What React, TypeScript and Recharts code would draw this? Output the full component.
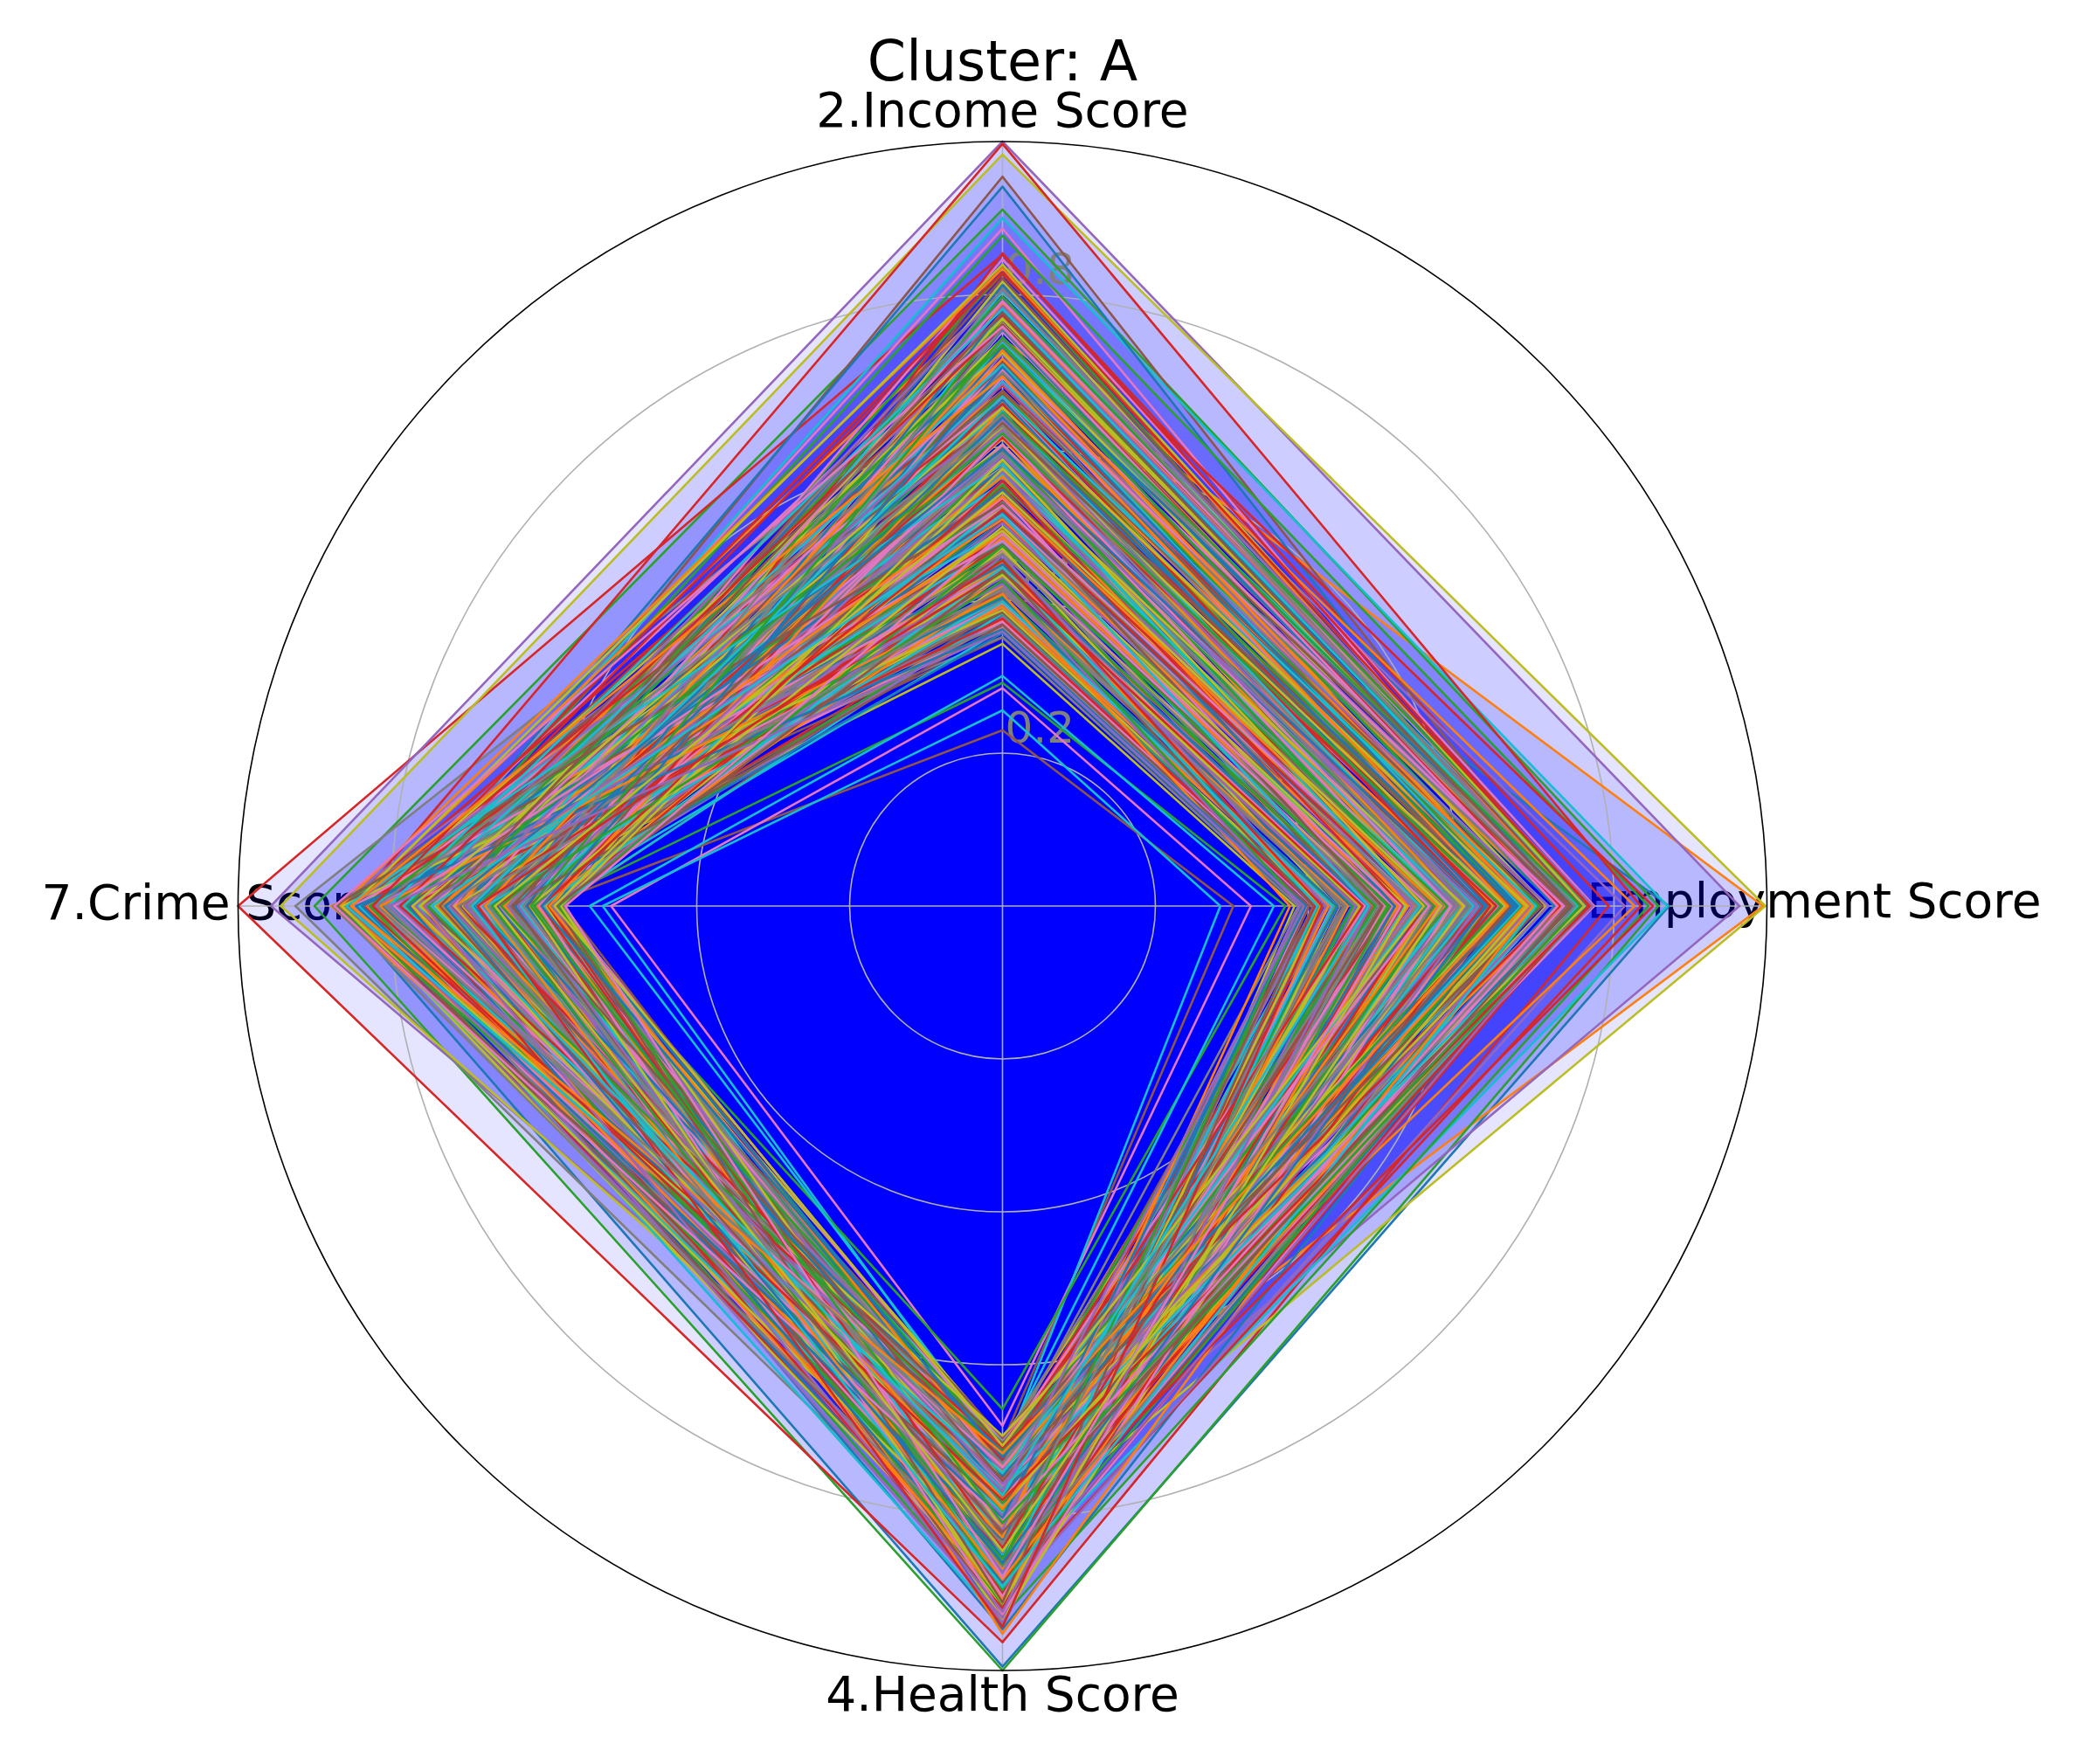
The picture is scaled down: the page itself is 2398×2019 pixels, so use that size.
import React from 'react';
import {
  RadarChart,
  Radar,
  PolarGrid,
  PolarAngleAxis,
  PolarRadiusAxis,
} from 'recharts';

const categories = ['2.Income Score', '3.Employment Score', '4.Health Score', '7.Crime Score'];
const radiusTicks = [0.2, 0.4, 0.6, 0.8];

// matplotlib tab10, the lines cycle through it in order
const COLORS = ['#1f77b4', '#ff7f0e', '#2ca02c', '#d62728', '#9467bd', '#8c564b', '#e377c2', '#7f7f7f', '#bcbd22', '#17becf'];

const incomeScore = [
  0.623, 0.742, 0.911, 0.852, 1.0, 0.954, 0.886, 0.731, 0.983, 0.9,
  0.941, 0.482, 0.877, 0.997, 0.584, 0.23, 0.285, 0.443, 0.536, 0.256,
  0.431, 0.523, 0.292, 0.662, 0.713, 0.392, 0.571, 0.613, 0.474, 0.301,
  0.552, 0.634, 0.412, 0.491, 0.372, 0.724, 0.453, 0.583, 0.681, 0.514,
  0.763, 0.404, 0.602, 0.543, 0.462, 0.642, 0.781, 0.503, 0.422, 0.592,
  0.484, 0.571, 0.693, 0.383, 0.534, 0.441, 0.612, 0.752, 0.563, 0.474,
  0.651, 0.394, 0.522, 0.731, 0.603, 0.351, 0.494, 0.672, 0.441, 0.703,
  0.412, 0.742, 0.561, 0.623, 0.473, 0.582, 0.364, 0.532, 0.771, 0.643,
  0.594, 0.462, 0.703, 0.432, 0.662, 0.521, 0.743, 0.402, 0.613, 0.373,
  0.702, 0.553, 0.384, 0.574, 0.792, 0.461, 0.632, 0.514, 0.343, 0.684,
  0.443, 0.661, 0.621, 0.512, 0.402, 0.762, 0.543, 0.694, 0.593, 0.452,
  0.532, 0.363, 0.472, 0.711, 0.641, 0.602, 0.421, 0.562, 0.732, 0.501,
  0.673, 0.584, 0.752, 0.391, 0.524, 0.433, 0.683, 0.474, 0.612, 0.562,
  0.381, 0.713, 0.513, 0.642, 0.563, 0.693, 0.592, 0.352, 0.483, 0.773,
  0.614, 0.451, 0.664, 0.544, 0.753, 0.503, 0.412, 0.633, 0.722, 0.423,
  0.562, 0.802, 0.431, 0.602, 0.482, 0.552, 0.724, 0.573, 0.392, 0.652,
  0.724, 0.513, 0.583, 0.461, 0.633, 0.374, 0.671, 0.453, 0.542, 0.602,
  0.463, 0.624, 0.702, 0.773, 0.414, 0.652, 0.503, 0.741, 0.574, 0.362,
  0.642, 0.432, 0.541, 0.583, 0.692, 0.482, 0.612, 0.401, 0.661, 0.523,
  0.503, 0.693, 0.382, 0.652, 0.551, 0.733, 0.464, 0.622, 0.443, 0.712,
  0.591, 0.542, 0.741, 0.424, 0.612, 0.571, 0.392, 0.682, 0.523, 0.633,
  0.692, 0.373, 0.612, 0.503, 0.722, 0.413, 0.582, 0.543, 0.762, 0.481,
  0.422, 0.603, 0.492, 0.681, 0.443, 0.623, 0.751, 0.472, 0.631, 0.553,
  0.754, 0.522, 0.652, 0.562, 0.391, 0.703, 0.441, 0.604, 0.512, 0.672,
  0.532, 0.673, 0.403, 0.741, 0.573, 0.494, 0.643, 0.712, 0.462, 0.383,
  0.611, 0.443, 0.713, 0.473, 0.653, 0.542, 0.523, 0.392, 0.701, 0.594,
  0.481, 0.762, 0.564, 0.622, 0.501, 0.664, 0.372, 0.583, 0.611, 0.733,
  0.663, 0.482, 0.632, 0.413, 0.782, 0.452, 0.691, 0.561, 0.433, 0.622,
  0.572, 0.612, 0.453, 0.702, 0.541, 0.592, 0.512, 0.653, 0.743, 0.404,
  0.733, 0.391, 0.672, 0.531, 0.623, 0.761, 0.584, 0.442, 0.552, 0.491,
  0.812, 0.447, 0.583, 0.826, 0.378, 0.641, 0.534, 0.797, 0.468, 0.553,
  0.357, 0.674, 0.829, 0.492, 0.706, 0.528, 0.846, 0.413, 0.604, 0.737,
  0.588, 0.789, 0.436, 0.657, 0.518, 0.838, 0.397, 0.619, 0.724, 0.476,
  0.695, 0.506, 0.768, 0.548, 0.429, 0.601, 0.716, 0.368, 0.817, 0.565,
  0.447, 0.633, 0.523, 0.854, 0.597, 0.384, 0.664, 0.742, 0.491, 0.803,
  0.728, 0.562, 0.406, 0.613, 0.785, 0.473, 0.556, 0.698, 0.433, 0.647,
  0.516, 0.834, 0.645, 0.376, 0.568, 0.712, 0.439, 0.592, 0.768, 0.528,
  0.662, 0.419, 0.734, 0.597, 0.458, 0.821, 0.603, 0.509, 0.387, 0.686,
  0.403, 0.716, 0.551, 0.669, 0.806, 0.546, 0.478, 0.756, 0.627, 0.443,
  0.778, 0.487, 0.598, 0.438, 0.636, 0.368, 0.791, 0.527, 0.572, 0.708,
  0.544, 0.652, 0.797, 0.518, 0.421, 0.674, 0.617, 0.461, 0.839, 0.398,
  0.639, 0.408, 0.471, 0.758, 0.589, 0.527, 0.702, 0.643, 0.496, 0.781,
  0.362, 0.727, 0.618, 0.556, 0.683, 0.439, 0.524, 0.808, 0.652, 0.578,
  0.705, 0.536, 0.426, 0.829, 0.511, 0.632, 0.758, 0.416, 0.584, 0.667,
  0.598, 0.693, 0.744, 0.452, 0.359, 0.776, 0.487, 0.628, 0.541, 0.512,
];

const employmentScore = [
  0.872, 0.995, 0.858, 0.793, 0.964, 0.753, 0.742, 0.661, 0.998, 0.87,
  0.741, 0.512, 0.845, 0.835, 0.622, 0.302, 0.325, 0.461, 0.548, 0.285,
  0.462, 0.566, 0.37, 0.69, 0.742, 0.41, 0.593, 0.588, 0.503, 0.355,
  0.571, 0.612, 0.446, 0.527, 0.398, 0.752, 0.489, 0.541, 0.712, 0.553,
  0.752, 0.436, 0.631, 0.582, 0.493, 0.606, 0.761, 0.472, 0.461, 0.623,
  0.452, 0.602, 0.724, 0.412, 0.566, 0.483, 0.644, 0.723, 0.597, 0.508,
  0.683, 0.427, 0.493, 0.762, 0.572, 0.389, 0.531, 0.641, 0.478, 0.736,
  0.447, 0.711, 0.598, 0.654, 0.512, 0.613, 0.398, 0.568, 0.742, 0.672,
  0.562, 0.499, 0.732, 0.466, 0.693, 0.556, 0.756, 0.436, 0.586, 0.408,
  0.733, 0.586, 0.417, 0.538, 0.814, 0.497, 0.601, 0.547, 0.382, 0.657,
  0.476, 0.692, 0.652, 0.479, 0.438, 0.748, 0.578, 0.661, 0.629, 0.488,
  0.566, 0.396, 0.504, 0.742, 0.607, 0.634, 0.458, 0.592, 0.763, 0.466,
  0.644, 0.617, 0.741, 0.426, 0.558, 0.468, 0.714, 0.442, 0.646, 0.528,
  0.414, 0.683, 0.547, 0.676, 0.597, 0.662, 0.626, 0.387, 0.519, 0.766,
  0.648, 0.486, 0.633, 0.579, 0.742, 0.472, 0.447, 0.667, 0.691, 0.458,
  0.528, 0.827, 0.468, 0.636, 0.449, 0.587, 0.756, 0.541, 0.427, 0.684,
  0.756, 0.481, 0.618, 0.497, 0.668, 0.408, 0.638, 0.488, 0.577, 0.569,
  0.498, 0.658, 0.671, 0.762, 0.448, 0.619, 0.537, 0.753, 0.542, 0.396,
  0.609, 0.467, 0.576, 0.551, 0.726, 0.517, 0.648, 0.434, 0.628, 0.558,
  0.538, 0.726, 0.416, 0.618, 0.586, 0.702, 0.499, 0.591, 0.478, 0.744,
  0.626, 0.508, 0.743, 0.458, 0.579, 0.606, 0.427, 0.652, 0.558, 0.601,
  0.661, 0.407, 0.578, 0.538, 0.691, 0.447, 0.617, 0.512, 0.754, 0.516,
  0.457, 0.637, 0.459, 0.713, 0.478, 0.591, 0.738, 0.507, 0.597, 0.588,
  0.722, 0.557, 0.684, 0.527, 0.424, 0.737, 0.476, 0.572, 0.547, 0.641,
  0.567, 0.641, 0.438, 0.751, 0.538, 0.529, 0.612, 0.744, 0.496, 0.418,
  0.578, 0.478, 0.681, 0.508, 0.687, 0.508, 0.558, 0.427, 0.668, 0.628,
  0.516, 0.731, 0.598, 0.587, 0.536, 0.697, 0.406, 0.618, 0.578, 0.762,
  0.629, 0.517, 0.667, 0.448, 0.752, 0.487, 0.658, 0.596, 0.468, 0.587,
  0.606, 0.578, 0.488, 0.668, 0.576, 0.558, 0.547, 0.686, 0.712, 0.438,
  0.702, 0.426, 0.638, 0.566, 0.591, 0.728, 0.618, 0.477, 0.587, 0.526,
  0.767, 0.416, 0.611, 0.851, 0.408, 0.668, 0.499, 0.754, 0.437, 0.586,
  0.392, 0.703, 0.744, 0.521, 0.735, 0.497, 0.774, 0.448, 0.573, 0.769,
  0.617, 0.756, 0.468, 0.628, 0.549, 0.752, 0.431, 0.652, 0.697, 0.507,
  0.668, 0.537, 0.763, 0.513, 0.462, 0.572, 0.748, 0.401, 0.746, 0.598,
  0.478, 0.602, 0.556, 0.766, 0.628, 0.419, 0.633, 0.741, 0.522, 0.762,
  0.756, 0.531, 0.437, 0.646, 0.758, 0.508, 0.523, 0.729, 0.468, 0.616,
  0.549, 0.753, 0.677, 0.409, 0.536, 0.741, 0.474, 0.561, 0.747, 0.494,
  0.634, 0.452, 0.702, 0.629, 0.423, 0.757, 0.572, 0.543, 0.418, 0.714,
  0.438, 0.688, 0.582, 0.638, 0.772, 0.513, 0.511, 0.727, 0.658, 0.412,
  0.746, 0.521, 0.566, 0.471, 0.607, 0.401, 0.768, 0.493, 0.604, 0.677,
  0.513, 0.683, 0.768, 0.551, 0.389, 0.706, 0.586, 0.494, 0.761, 0.432,
  0.671, 0.376, 0.506, 0.729, 0.621, 0.496, 0.734, 0.612, 0.528, 0.752,
  0.397, 0.694, 0.652, 0.523, 0.714, 0.406, 0.558, 0.749, 0.686, 0.546,
  0.674, 0.569, 0.393, 0.768, 0.481, 0.664, 0.726, 0.449, 0.551, 0.698,
  0.631, 0.661, 0.756, 0.418, 0.394, 0.744, 0.521, 0.597, 0.574, 0.479,
];

const healthScore = [
  0.995, 0.745, 1.0, 0.963, 0.812, 0.862, 0.905, 0.901, 0.832, 0.884,
  0.946, 0.782, 0.93, 0.9, 0.8, 0.702, 0.68, 0.76, 0.79, 0.72,
  0.79, 0.81, 0.658, 0.85, 0.87, 0.74, 0.83, 0.8, 0.77, 0.71,
  0.812, 0.751, 0.882, 0.727, 0.856, 0.792, 0.914, 0.722, 0.822, 0.704,
  0.876, 0.797, 0.716, 0.814, 0.941, 0.753, 0.833, 0.774, 0.698, 0.862,
  0.743, 0.852, 0.836, 0.768, 0.728, 0.926, 0.801, 0.872, 0.818, 0.746,
  0.787, 0.706, 0.759, 0.894, 0.844, 0.823, 0.732, 0.806, 0.912, 0.771,
  0.846, 0.818, 0.918, 0.714, 0.778, 0.737, 0.868, 0.754, 0.828, 0.797,
  0.719, 0.884, 0.771, 0.852, 0.808, 0.864, 0.816, 0.701, 0.762, 0.938,
  0.832, 0.747, 0.856, 0.794, 0.906, 0.769, 0.723, 0.842, 0.888, 0.738,
  0.791, 0.952, 0.729, 0.821, 0.757, 0.799, 0.896, 0.783, 0.711, 0.859,
  0.887, 0.772, 0.811, 0.742, 0.848, 0.707, 0.858, 0.736, 0.789, 0.826,
  0.754, 0.838, 0.878, 0.924, 0.726, 0.841, 0.776, 0.901, 0.803, 0.699,
  0.834, 0.735, 0.792, 0.806, 0.871, 0.761, 0.829, 0.716, 0.848, 0.782,
  0.763, 0.869, 0.703, 0.832, 0.798, 0.892, 0.749, 0.819, 0.739, 0.898,
  0.816, 0.786, 0.916, 0.731, 0.823, 0.808, 0.712, 0.861, 0.776, 0.838,
  0.871, 0.709, 0.827, 0.766, 0.881, 0.728, 0.812, 0.788, 0.934, 0.752,
  0.729, 0.843, 0.752, 0.874, 0.744, 0.831, 0.928, 0.759, 0.836, 0.793,
  0.908, 0.778, 0.862, 0.801, 0.717, 0.889, 0.738, 0.824, 0.771, 0.853,
  0.799, 0.856, 0.724, 0.913, 0.784, 0.767, 0.839, 0.893, 0.746, 0.706,
  0.822, 0.739, 0.889, 0.761, 0.859, 0.796, 0.781, 0.714, 0.877, 0.818,
  0.757, 0.919, 0.805, 0.826, 0.769, 0.866, 0.697, 0.811, 0.828, 0.904,
  0.848, 0.764, 0.853, 0.725, 0.937, 0.743, 0.876, 0.798, 0.727, 0.834,
  0.803, 0.829, 0.741, 0.881, 0.793, 0.817, 0.774, 0.846, 0.899, 0.719,
  0.893, 0.711, 0.844, 0.784, 0.835, 0.911, 0.808, 0.747, 0.794, 0.769,
  0.782, 0.824, 0.713, 0.756, 0.702, 0.892, 0.741, 0.803, 0.866, 0.772,
  0.903, 0.724, 0.831, 0.792, 0.748, 0.848, 0.922, 0.762, 0.733, 0.816,
  0.768, 0.813, 0.874, 0.712, 0.786, 0.744, 0.842, 0.908, 0.796, 0.752,
  0.858, 0.718, 0.773, 0.886, 0.827, 0.696, 0.758, 0.851, 0.737, 0.878,
  0.733, 0.897, 0.802, 0.838, 0.764, 0.808, 0.708, 0.781, 0.932, 0.846,
  0.761, 0.892, 0.728, 0.847, 0.806, 0.712, 0.871, 0.783, 0.921, 0.736,
  0.838, 0.721, 0.769, 0.899, 0.752, 0.858, 0.794, 0.726, 0.883, 0.807,
  0.704, 0.831, 0.913, 0.768, 0.842, 0.739, 0.864, 0.798, 0.747, 0.889,
  0.873, 0.758, 0.817, 0.705, 0.931, 0.786, 0.736, 0.854, 0.779, 0.821,
  0.792, 0.905, 0.748, 0.836, 0.713, 0.877, 0.809, 0.744, 0.862, 0.725,
  0.727, 0.813, 0.866, 0.775, 0.894, 0.731, 0.843, 0.702, 0.828, 0.784,
  0.851, 0.741, 0.793, 0.919, 0.762, 0.824, 0.708, 0.882, 0.756, 0.869,
  0.714, 0.867, 0.836, 0.749, 0.808, 0.772, 0.903, 0.735, 0.857, 0.795,
  0.829, 0.776, 0.711, 0.885, 0.738, 0.926, 0.782, 0.818, 0.693, 0.848,
  0.769, 0.908, 0.854, 0.724, 0.797, 0.845, 0.757, 0.873, 0.816, 0.732,
  0.884, 0.734, 0.781, 0.863, 0.816, 0.703, 0.926, 0.767, 0.741, 0.876,
  0.745, 0.826, 0.895, 0.709, 0.872, 0.788, 0.819, 0.751, 0.912, 0.763,
  0.801, 0.881, 0.718, 0.839, 0.756, 0.911, 0.734, 0.864, 0.787, 0.742,
  0.721, 0.789, 0.861, 0.777, 0.923, 0.752, 0.804, 0.835, 0.706, 0.891,
  0.859, 0.716, 0.807, 0.943, 0.765, 0.819, 0.878, 0.729, 0.844, 0.771,
];

const crimeScore = [
  0.868, 0.703, 0.9, 1.0, 0.957, 0.781, 0.812, 0.925, 0.944, 0.804,
  0.8, 0.66, 0.8, 0.85, 0.7, 0.6, 0.512, 0.64, 0.69, 0.523,
  0.66, 0.73, 0.6, 0.78, 0.82, 0.58, 0.69, 0.76, 0.64, 0.54,
  0.756, 0.644, 0.788, 0.712, 0.842, 0.672, 0.618, 0.774, 0.824, 0.628,
  0.696, 0.878, 0.634, 0.748, 0.658, 0.722, 0.836, 0.704, 0.604, 0.794,
  0.822, 0.676, 0.732, 0.638, 0.782, 0.582, 0.788, 0.646, 0.706, 0.758,
  0.658, 0.772, 0.812, 0.858, 0.622, 0.768, 0.678, 0.844, 0.726, 0.588,
  0.762, 0.626, 0.704, 0.724, 0.806, 0.668, 0.754, 0.607, 0.776, 0.696,
  0.668, 0.802, 0.591, 0.756, 0.718, 0.828, 0.652, 0.742, 0.636, 0.838,
  0.744, 0.692, 0.852, 0.628, 0.746, 0.732, 0.598, 0.796, 0.684, 0.768,
  0.806, 0.598, 0.752, 0.674, 0.818, 0.622, 0.734, 0.702, 0.866, 0.656,
  0.621, 0.766, 0.661, 0.808, 0.646, 0.758, 0.856, 0.662, 0.764, 0.716,
  0.846, 0.694, 0.796, 0.728, 0.611, 0.824, 0.642, 0.748, 0.676, 0.784,
  0.712, 0.784, 0.614, 0.848, 0.694, 0.676, 0.766, 0.826, 0.644, 0.589,
  0.748, 0.632, 0.818, 0.668, 0.794, 0.708, 0.698, 0.602, 0.812, 0.738,
  0.652, 0.856, 0.728, 0.752, 0.682, 0.802, 0.582, 0.734, 0.754, 0.832,
  0.774, 0.666, 0.786, 0.616, 0.864, 0.646, 0.808, 0.718, 0.624, 0.762,
  0.726, 0.758, 0.638, 0.814, 0.702, 0.742, 0.688, 0.782, 0.834, 0.609,
  0.828, 0.606, 0.774, 0.696, 0.762, 0.848, 0.736, 0.654, 0.718, 0.674,
  0.702, 0.764, 0.618, 0.684, 0.592, 0.838, 0.648, 0.731, 0.806, 0.672,
  0.852, 0.612, 0.744, 0.713, 0.654, 0.786, 0.822, 0.693, 0.632, 0.748,
  0.664, 0.726, 0.812, 0.587, 0.706, 0.636, 0.772, 0.846, 0.716, 0.656,
  0.792, 0.603, 0.682, 0.828, 0.738, 0.574, 0.668, 0.798, 0.626, 0.816,
  0.628, 0.834, 0.722, 0.768, 0.673, 0.746, 0.596, 0.698, 0.862, 0.778,
  0.736, 0.652, 0.826, 0.622, 0.784, 0.714, 0.854, 0.606, 0.752, 0.584,
  0.814, 0.718, 0.608, 0.734, 0.872, 0.662, 0.758, 0.688, 0.578, 0.802,
  0.642, 0.776, 0.762, 0.678, 0.616, 0.858, 0.722, 0.808, 0.742, 0.638,
  0.708, 0.594, 0.658, 0.832, 0.772, 0.752, 0.624, 0.728, 0.848, 0.682,
  0.778, 0.742, 0.842, 0.601, 0.692, 0.634, 0.804, 0.648, 0.756, 0.712,
  0.613, 0.818, 0.686, 0.782, 0.728, 0.796, 0.738, 0.586, 0.664, 0.868,
  0.716, 0.772, 0.648, 0.806, 0.613, 0.846, 0.684, 0.751, 0.596, 0.824,
  0.638, 0.834, 0.742, 0.586, 0.792, 0.668, 0.718, 0.862, 0.706, 0.624,
  0.812, 0.601, 0.694, 0.854, 0.726, 0.632, 0.778, 0.576, 0.838, 0.752,
  0.668, 0.786, 0.592, 0.738, 0.821, 0.704, 0.616, 0.843, 0.657, 0.764,
  0.797, 0.648, 0.872, 0.622, 0.678, 0.761, 0.829, 0.604, 0.734, 0.689,
  0.586, 0.732, 0.806, 0.698, 0.647, 0.868, 0.628, 0.783, 0.716, 0.842,
  0.754, 0.866, 0.613, 0.776, 0.703, 0.594, 0.817, 0.672, 0.743, 0.631,
  0.692, 0.608, 0.779, 0.836, 0.588, 0.722, 0.658, 0.808, 0.864, 0.726,
  0.838, 0.714, 0.656, 0.594, 0.768, 0.686, 0.849, 0.627, 0.762, 0.601,
  0.623, 0.758, 0.828, 0.711, 0.852, 0.642, 0.698, 0.876, 0.578, 0.784,
  0.777, 0.593, 0.724, 0.661, 0.816, 0.756, 0.606, 0.731, 0.852, 0.676,
  0.662, 0.814, 0.581, 0.788, 0.634, 0.874, 0.746, 0.698, 0.618, 0.803,
  0.846, 0.677, 0.752, 0.603, 0.724, 0.584, 0.796, 0.643, 0.772, 0.858,
  0.603, 0.738, 0.668, 0.824, 0.756, 0.642, 0.874, 0.712, 0.586, 0.694,
  0.729, 0.852, 0.617, 0.687, 0.803, 0.736, 0.572, 0.818, 0.664, 0.746,
];

const scoreColumns = [incomeScore, employmentScore, healthScore, crimeScore];
const seriesKeys = incomeScore.map((_, i) => `s${i}`);

const chartData = categories.map((name, row) => {
  const entry: Record<string, any> = { name };
  seriesKeys.forEach((key, i) => {
    entry[key] = scoreColumns[row][i];
  });
  return entry;
});

const FONT = '"DejaVu Sans"';
const CX = 1147.5;
const CY = 1037;
const OUTER_RADIUS = 875;

// label anchors relative to the tick point Recharts hands us (8px past the ring)
const LABEL_OFFSET: Record<string, { dx: number; dy: number; anchor: string }> = {
  '2.Income Score': { dx: 0, dy: -9, anchor: 'middle' },
  '3.Employment Score': { dx: 306, dy: 13, anchor: 'end' },
  '4.Health Score': { dx: 0, dy: 38, anchor: 'middle' },
  '7.Crime Score': { dx: -217, dy: 15, anchor: 'start' },
};

const AngleTick = ({ x, y, payload }: any) => {
  const offset = LABEL_OFFSET[payload.value];
  return (
    <text x={x + offset.dx} y={y + offset.dy} textAnchor={offset.anchor} fontFamily={FONT} fontSize={55} fill="#000">
      {payload.value}
    </text>
  );
};

const RadiusTick = ({ x, y, payload }: any) => (
  <text x={x + 3} y={y - 12} textAnchor="start" fontFamily={FONT} fontSize={50} fill="#808080">
    {Number(payload.value).toFixed(1)}
  </text>
);

export default function App() {
  return (
    <div style={{ position: 'absolute', left: 0, top: 0, background: '#fff' }}>
      <RadarChart
        width={2398}
        height={2019}
        data={chartData}
        cx={CX}
        cy={CY}
        outerRadius={OUTER_RADIUS}
        margin={{ top: 0, right: 0, bottom: 0, left: 0 }}
      >
        <PolarAngleAxis dataKey="name" axisLine={false} tickLine={false} tick={AngleTick} zIndex={-400} />
        {seriesKeys.map(key => (
          <Radar
            key={`fill-${key}`}
            dataKey={key}
            stroke="none"
            fill="#0000ff"
            fillOpacity={0.1}
            isAnimationActive={false}
            zIndex={-300}
          />
        ))}
        <PolarGrid
          gridType="circle"
          polarRadius={radiusTicks.map(v => v * OUTER_RADIUS)}
          stroke="#b0b0b0"
          strokeWidth={1.6}
          zIndex={-200}
        />
        <PolarRadiusAxis
          angle={90}
          domain={[0, 1]}
          ticks={radiusTicks as any}
          axisLine={false}
          tick={RadiusTick}
          zIndex={-200}
        />
        {seriesKeys.map((key, i) => (
          <Radar
            key={`line-${key}`}
            dataKey={key}
            stroke={COLORS[i % COLORS.length]}
            strokeWidth={2.6}
            strokeLinejoin="round"
            fill="none"
            isAnimationActive={false}
            zIndex={100}
          />
        ))}
        <PolarGrid
          gridType="circle"
          polarRadius={[OUTER_RADIUS]}
          radialLines={false}
          stroke="#000"
          strokeWidth={1.6}
          zIndex={600}
        />
        <text x={CX} y={92} textAnchor="middle" fontFamily={FONT} fontSize={63.5} fill="#000">
          Cluster: A
        </text>
      </RadarChart>
    </div>
  );
}
